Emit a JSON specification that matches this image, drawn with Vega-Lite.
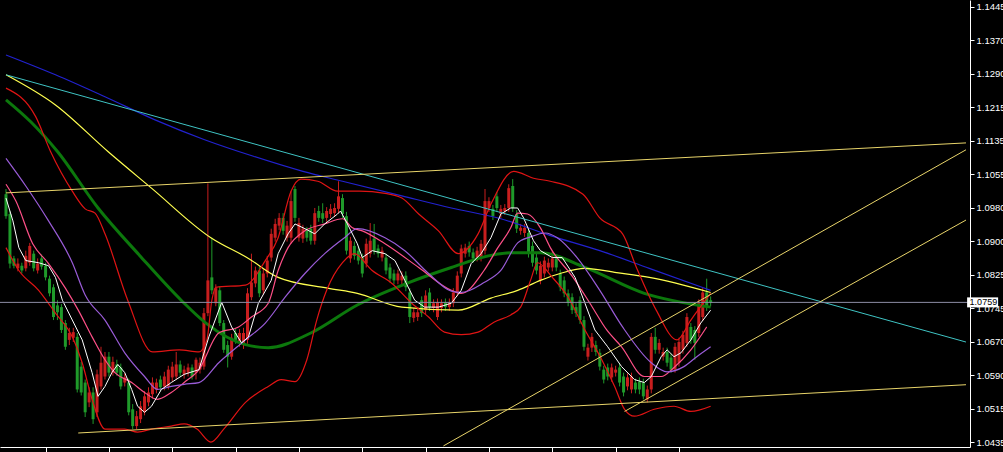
{
"$schema":"https://vega.github.io/schema/vega-lite/v6.json",
"width":970,"height":447,
"autosize":{"type":"none"},
"padding":{"left":0,"top":0,"right":33,"bottom":5},
"background":"#000000",
"config":{"view":{"stroke":null},"axis":{"grid":false,"labelOverlap":false,"labelSeparation":0,"labelBound":false,"labelFlush":false}},
"resolve":{"scale":{"color":"independent"}},
"datasets":{
"candles":[
{"k":0,"o":1.1010,"h":1.1022,"l":1.0953,"c":1.0959},
{"k":1,"o":1.0964,"h":1.0971,"l":1.0838,"c":1.0849},
{"k":2,"o":1.0861,"h":1.0867,"l":1.0838,"c":1.0844},
{"k":3,"o":1.0838,"h":1.0861,"l":1.0831,"c":1.0849},
{"k":4,"o":1.0844,"h":1.0851,"l":1.0826,"c":1.0833},
{"k":5,"o":1.0838,"h":1.0879,"l":1.0831,"c":1.0867},
{"k":6,"o":1.0851,"h":1.0897,"l":1.0844,"c":1.0890},
{"k":7,"o":1.0872,"h":1.0879,"l":1.0831,"c":1.0838},
{"k":8,"o":1.0833,"h":1.0861,"l":1.0826,"c":1.0849},
{"k":9,"o":1.0861,"h":1.0870,"l":1.0835,"c":1.0842},
{"k":10,"o":1.0844,"h":1.0851,"l":1.0810,"c":1.0817},
{"k":11,"o":1.0814,"h":1.0821,"l":1.0773,"c":1.0780},
{"k":12,"o":1.0794,"h":1.0801,"l":1.0718,"c":1.0725},
{"k":13,"o":1.0752,"h":1.0764,"l":1.0718,"c":1.0736},
{"k":14,"o":1.0748,"h":1.0755,"l":1.0688,"c":1.0695},
{"k":15,"o":1.0711,"h":1.0718,"l":1.0649,"c":1.0656},
{"k":16,"o":1.0672,"h":1.0700,"l":1.0660,"c":1.0688},
{"k":17,"o":1.0677,"h":1.0700,"l":1.0667,"c":1.0690},
{"k":18,"o":1.0679,"h":1.0688,"l":1.0550,"c":1.0557},
{"k":19,"o":1.0610,"h":1.0621,"l":1.0543,"c":1.0550},
{"k":20,"o":1.0573,"h":1.0580,"l":1.0493,"c":1.0504},
{"k":21,"o":1.0527,"h":1.0562,"l":1.0516,"c":1.0550},
{"k":22,"o":1.0550,"h":1.0562,"l":1.0477,"c":1.0488},
{"k":23,"o":1.0504,"h":1.0603,"l":1.0493,"c":1.0592},
{"k":24,"o":1.0564,"h":1.0656,"l":1.0557,"c":1.0619},
{"k":25,"o":1.0587,"h":1.0644,"l":1.0580,"c":1.0633},
{"k":26,"o":1.0633,"h":1.0644,"l":1.0587,"c":1.0596},
{"k":27,"o":1.0596,"h":1.0633,"l":1.0589,"c":1.0621},
{"k":28,"o":1.0615,"h":1.0626,"l":1.0589,"c":1.0596},
{"k":29,"o":1.0608,"h":1.0617,"l":1.0557,"c":1.0564},
{"k":30,"o":1.0573,"h":1.0594,"l":1.0564,"c":1.0585},
{"k":31,"o":1.0573,"h":1.0582,"l":1.0497,"c":1.0504},
{"k":32,"o":1.0511,"h":1.0523,"l":1.0465,"c":1.0472},
{"k":33,"o":1.0472,"h":1.0507,"l":1.0465,"c":1.0495},
{"k":34,"o":1.0488,"h":1.0530,"l":1.0479,"c":1.0518},
{"k":35,"o":1.0504,"h":1.0553,"l":1.0497,"c":1.0541},
{"k":36,"o":1.0527,"h":1.0562,"l":1.0518,"c":1.0550},
{"k":37,"o":1.0546,"h":1.0585,"l":1.0536,"c":1.0573},
{"k":38,"o":1.0557,"h":1.0582,"l":1.0548,"c":1.0573},
{"k":39,"o":1.0580,"h":1.0589,"l":1.0553,"c":1.0562},
{"k":40,"o":1.0564,"h":1.0598,"l":1.0555,"c":1.0587},
{"k":41,"o":1.0564,"h":1.0612,"l":1.0557,"c":1.0603},
{"k":42,"o":1.0585,"h":1.0621,"l":1.0575,"c":1.0610},
{"k":43,"o":1.0587,"h":1.0644,"l":1.0580,"c":1.0615},
{"k":44,"o":1.0615,"h":1.0624,"l":1.0587,"c":1.0596},
{"k":45,"o":1.0592,"h":1.0612,"l":1.0582,"c":1.0603},
{"k":46,"o":1.0596,"h":1.0617,"l":1.0587,"c":1.0608},
{"k":47,"o":1.0608,"h":1.0615,"l":1.0580,"c":1.0587},
{"k":48,"o":1.0596,"h":1.0631,"l":1.0580,"c":1.0626},
{"k":49,"o":1.0603,"h":1.0631,"l":1.0594,"c":1.0619},
{"k":50,"o":1.0610,"h":1.0746,"l":1.0603,"c":1.0734},
{"k":51,"o":1.0734,"h":1.1035,"l":1.0727,"c":1.0810},
{"k":52,"o":1.0817,"h":1.0909,"l":1.0778,"c":1.0787},
{"k":53,"o":1.0757,"h":1.0801,"l":1.0750,"c":1.0792},
{"k":54,"o":1.0787,"h":1.0796,"l":1.0704,"c":1.0711},
{"k":55,"o":1.0711,"h":1.0718,"l":1.0642,"c":1.0649},
{"k":56,"o":1.0660,"h":1.0670,"l":1.0608,"c":1.0633},
{"k":57,"o":1.0633,"h":1.0686,"l":1.0626,"c":1.0677},
{"k":58,"o":1.0688,"h":1.0697,"l":1.0663,"c":1.0672},
{"k":59,"o":1.0665,"h":1.0697,"l":1.0656,"c":1.0688},
{"k":60,"o":1.0660,"h":1.0700,"l":1.0651,"c":1.0688},
{"k":61,"o":1.0672,"h":1.0792,"l":1.0663,"c":1.0780},
{"k":62,"o":1.0771,"h":1.0872,"l":1.0764,"c":1.0805},
{"k":63,"o":1.0803,"h":1.0842,"l":1.0794,"c":1.0833},
{"k":64,"o":1.0833,"h":1.0842,"l":1.0771,"c":1.0780},
{"k":65,"o":1.0787,"h":1.0838,"l":1.0778,"c":1.0826},
{"k":66,"o":1.0826,"h":1.0867,"l":1.0817,"c":1.0856},
{"k":67,"o":1.0863,"h":1.0930,"l":1.0854,"c":1.0918},
{"k":68,"o":1.0909,"h":1.0953,"l":1.0900,"c":1.0941},
{"k":69,"o":1.0937,"h":1.0966,"l":1.0927,"c":1.0955},
{"k":70,"o":1.0955,"h":1.0966,"l":1.0916,"c":1.0925},
{"k":71,"o":1.0909,"h":1.0948,"l":1.0900,"c":1.0937},
{"k":72,"o":1.0909,"h":1.1017,"l":1.0895,"c":1.0994},
{"k":73,"o":1.1022,"h":1.1029,"l":1.0946,"c":1.0955},
{"k":74,"o":1.0909,"h":1.0955,"l":1.0900,"c":1.0943},
{"k":75,"o":1.0907,"h":1.0939,"l":1.0897,"c":1.0930},
{"k":76,"o":1.0925,"h":1.0934,"l":1.0900,"c":1.0909},
{"k":77,"o":1.0930,"h":1.0939,"l":1.0893,"c":1.0902},
{"k":78,"o":1.0902,"h":1.0978,"l":1.0893,"c":1.0966},
{"k":79,"o":1.0971,"h":1.0983,"l":1.0946,"c":1.0955},
{"k":80,"o":1.0966,"h":1.0989,"l":1.0943,"c":1.0953},
{"k":81,"o":1.0955,"h":1.0980,"l":1.0946,"c":1.0971},
{"k":82,"o":1.0964,"h":1.0987,"l":1.0955,"c":1.0976},
{"k":83,"o":1.0966,"h":1.0989,"l":1.0957,"c":1.0978},
{"k":84,"o":1.0976,"h":1.1040,"l":1.0966,"c":1.1005},
{"k":85,"o":1.1001,"h":1.1010,"l":1.0955,"c":1.0964},
{"k":86,"o":1.0959,"h":1.0969,"l":1.0870,"c":1.0879},
{"k":87,"o":1.0861,"h":1.0911,"l":1.0851,"c":1.0902},
{"k":88,"o":1.0890,"h":1.0900,"l":1.0858,"c":1.0867},
{"k":89,"o":1.0879,"h":1.0888,"l":1.0847,"c":1.0856},
{"k":90,"o":1.0863,"h":1.0872,"l":1.0817,"c":1.0826},
{"k":91,"o":1.0849,"h":1.0907,"l":1.0840,"c":1.0895},
{"k":92,"o":1.0872,"h":1.0943,"l":1.0863,"c":1.0902},
{"k":93,"o":1.0907,"h":1.0941,"l":1.0870,"c":1.0879},
{"k":94,"o":1.0884,"h":1.0893,"l":1.0863,"c":1.0872},
{"k":95,"o":1.0863,"h":1.0888,"l":1.0854,"c":1.0879},
{"k":96,"o":1.0863,"h":1.0872,"l":1.0824,"c":1.0833},
{"k":97,"o":1.0840,"h":1.0849,"l":1.0805,"c":1.0814},
{"k":98,"o":1.0826,"h":1.0835,"l":1.0801,"c":1.0810},
{"k":99,"o":1.0810,"h":1.0835,"l":1.0801,"c":1.0826},
{"k":100,"o":1.0810,"h":1.0831,"l":1.0801,"c":1.0821},
{"k":101,"o":1.0821,"h":1.0831,"l":1.0785,"c":1.0794},
{"k":102,"o":1.0782,"h":1.0792,"l":1.0711,"c":1.0725},
{"k":103,"o":1.0723,"h":1.0746,"l":1.0713,"c":1.0736},
{"k":104,"o":1.0725,"h":1.0748,"l":1.0716,"c":1.0736},
{"k":105,"o":1.0764,"h":1.0773,"l":1.0725,"c":1.0734},
{"k":106,"o":1.0741,"h":1.0787,"l":1.0732,"c":1.0775},
{"k":107,"o":1.0782,"h":1.0792,"l":1.0739,"c":1.0748},
{"k":108,"o":1.0746,"h":1.0766,"l":1.0736,"c":1.0757},
{"k":109,"o":1.0725,"h":1.0768,"l":1.0718,"c":1.0759},
{"k":110,"o":1.0746,"h":1.0766,"l":1.0736,"c":1.0757},
{"k":111,"o":1.0759,"h":1.0768,"l":1.0739,"c":1.0748},
{"k":112,"o":1.0748,"h":1.0768,"l":1.0739,"c":1.0759},
{"k":113,"o":1.0757,"h":1.0792,"l":1.0748,"c":1.0782},
{"k":114,"o":1.0782,"h":1.0831,"l":1.0773,"c":1.0821},
{"k":115,"o":1.0826,"h":1.0893,"l":1.0817,"c":1.0884},
{"k":116,"o":1.0872,"h":1.0895,"l":1.0863,"c":1.0886},
{"k":117,"o":1.0890,"h":1.0900,"l":1.0865,"c":1.0875},
{"k":118,"o":1.0875,"h":1.0884,"l":1.0851,"c":1.0861},
{"k":119,"o":1.0863,"h":1.0888,"l":1.0854,"c":1.0879},
{"k":120,"o":1.0863,"h":1.0904,"l":1.0854,"c":1.0895},
{"k":121,"o":1.0879,"h":1.1022,"l":1.0870,"c":1.0994},
{"k":122,"o":1.0978,"h":1.1003,"l":1.0969,"c":1.0994},
{"k":123,"o":1.0976,"h":1.0985,"l":1.0950,"c":1.0959},
{"k":124,"o":1.1005,"h":1.1015,"l":1.0969,"c":1.0978},
{"k":125,"o":1.0964,"h":1.0985,"l":1.0955,"c":1.0976},
{"k":126,"o":1.0971,"h":1.0987,"l":1.0962,"c":1.0978},
{"k":127,"o":1.0978,"h":1.1033,"l":1.0969,"c":1.1024},
{"k":128,"o":1.1029,"h":1.1045,"l":1.0969,"c":1.0978},
{"k":129,"o":1.0964,"h":1.0973,"l":1.0920,"c":1.0930},
{"k":130,"o":1.0925,"h":1.0941,"l":1.0916,"c":1.0932},
{"k":131,"o":1.0920,"h":1.0941,"l":1.0911,"c":1.0932},
{"k":132,"o":1.0920,"h":1.0930,"l":1.0863,"c":1.0872},
{"k":133,"o":1.0890,"h":1.0900,"l":1.0842,"c":1.0851},
{"k":134,"o":1.0863,"h":1.0872,"l":1.0824,"c":1.0833},
{"k":135,"o":1.0810,"h":1.0854,"l":1.0801,"c":1.0844},
{"k":136,"o":1.0826,"h":1.0865,"l":1.0817,"c":1.0856},
{"k":137,"o":1.0840,"h":1.0861,"l":1.0831,"c":1.0851},
{"k":138,"o":1.0840,"h":1.0879,"l":1.0831,"c":1.0861},
{"k":139,"o":1.0861,"h":1.0870,"l":1.0831,"c":1.0840},
{"k":140,"o":1.0826,"h":1.0835,"l":1.0785,"c":1.0794},
{"k":141,"o":1.0810,"h":1.0819,"l":1.0771,"c":1.0780},
{"k":142,"o":1.0780,"h":1.0789,"l":1.0750,"c":1.0759},
{"k":143,"o":1.0771,"h":1.0780,"l":1.0732,"c":1.0741},
{"k":144,"o":1.0748,"h":1.0757,"l":1.0725,"c":1.0734},
{"k":145,"o":1.0764,"h":1.0773,"l":1.0709,"c":1.0718},
{"k":146,"o":1.0718,"h":1.0727,"l":1.0647,"c":1.0656},
{"k":147,"o":1.0633,"h":1.0663,"l":1.0624,"c":1.0654},
{"k":148,"o":1.0654,"h":1.0688,"l":1.0644,"c":1.0679},
{"k":149,"o":1.0660,"h":1.0670,"l":1.0635,"c":1.0644},
{"k":150,"o":1.0642,"h":1.0651,"l":1.0601,"c":1.0610},
{"k":151,"o":1.0603,"h":1.0612,"l":1.0571,"c":1.0580},
{"k":152,"o":1.0608,"h":1.0617,"l":1.0578,"c":1.0587},
{"k":153,"o":1.0585,"h":1.0617,"l":1.0575,"c":1.0608},
{"k":154,"o":1.0596,"h":1.0612,"l":1.0587,"c":1.0603},
{"k":155,"o":1.0608,"h":1.0617,"l":1.0564,"c":1.0573},
{"k":156,"o":1.0587,"h":1.0596,"l":1.0541,"c":1.0550},
{"k":157,"o":1.0564,"h":1.0594,"l":1.0555,"c":1.0585},
{"k":158,"o":1.0557,"h":1.0596,"l":1.0548,"c":1.0587},
{"k":159,"o":1.0573,"h":1.0582,"l":1.0548,"c":1.0557},
{"k":160,"o":1.0575,"h":1.0585,"l":1.0546,"c":1.0557},
{"k":161,"o":1.0573,"h":1.0582,"l":1.0534,"c":1.0541},
{"k":162,"o":1.0534,"h":1.0566,"l":1.0527,"c":1.0557},
{"k":163,"o":1.0557,"h":1.0688,"l":1.0548,"c":1.0679},
{"k":164,"o":1.0679,"h":1.0700,"l":1.0640,"c":1.0649},
{"k":165,"o":1.0649,"h":1.0674,"l":1.0640,"c":1.0665},
{"k":166,"o":1.0633,"h":1.0654,"l":1.0624,"c":1.0644},
{"k":167,"o":1.0644,"h":1.0654,"l":1.0610,"c":1.0619},
{"k":168,"o":1.0631,"h":1.0640,"l":1.0596,"c":1.0603},
{"k":169,"o":1.0603,"h":1.0665,"l":1.0596,"c":1.0656},
{"k":170,"o":1.0619,"h":1.0677,"l":1.0610,"c":1.0667},
{"k":171,"o":1.0649,"h":1.0693,"l":1.0640,"c":1.0684},
{"k":172,"o":1.0665,"h":1.0734,"l":1.0656,"c":1.0725},
{"k":173,"o":1.0702,"h":1.0711,"l":1.0663,"c":1.0672},
{"k":174,"o":1.0695,"h":1.0704,"l":1.0626,"c":1.0665},
{"k":175,"o":1.0688,"h":1.0766,"l":1.0679,"c":1.0757},
{"k":176,"o":1.0725,"h":1.0792,"l":1.0716,"c":1.0782},
{"k":177,"o":1.0782,"h":1.0814,"l":1.0739,"c":1.0748},
{"k":178,"o":1.0764,"h":1.0773,"l":1.0750,"c":1.0759}
],
"ind":[
{"s":"blue","k":0,"p":1.1333},{"s":"blue","k":12.5,"p":1.1287},{"s":"blue","k":25,"p":1.1236},{"s":"blue","k":37.5,"p":1.1183},{"s":"blue","k":50,"p":1.1137},{"s":"blue","k":62.5,"p":1.1098},{"s":"blue","k":75,"p":1.1063},{"s":"blue","k":85,"p":1.1040},{"s":"blue","k":100,"p":1.1006},{"s":"blue","k":112.5,"p":1.0978},{"s":"blue","k":125,"p":1.0953},{"s":"blue","k":137.5,"p":1.0914},{"s":"blue","k":150,"p":1.0879},{"s":"blue","k":162.5,"p":1.0838},{"s":"blue","k":178,"p":1.0787},
{"s":"yellow","k":0,"p":1.1287},{"s":"yellow","k":12.5,"p":1.1217},{"s":"yellow","k":25.75,"p":1.1109},{"s":"yellow","k":36.75,"p":1.1024},{"s":"yellow","k":51.75,"p":1.0909},{"s":"yellow","k":61.25,"p":1.0861},{"s":"yellow","k":68.75,"p":1.0817},{"s":"yellow","k":81.25,"p":1.0792},{"s":"yellow","k":88.75,"p":1.0780},{"s":"yellow","k":100,"p":1.0748},{"s":"yellow","k":114.25,"p":1.0741},{"s":"yellow","k":122.5,"p":1.0769},{"s":"yellow","k":129.25,"p":1.0787},{"s":"yellow","k":135,"p":1.0810},{"s":"yellow","k":140,"p":1.0826},{"s":"yellow","k":146.25,"p":1.0838},{"s":"yellow","k":154.25,"p":1.0828},{"s":"yellow","k":162.5,"p":1.0817},{"s":"yellow","k":178,"p":1.0782},
{"s":"bbu","k":0,"p":1.1256},{"s":"bbu","k":7.5,"p":1.1190},{"s":"bbu","k":11.25,"p":1.1109},{"s":"bbu","k":16.75,"p":1.1017},{"s":"bbu","k":20,"p":1.0976},{"s":"bbu","k":22.5,"p":1.0966},{"s":"bbu","k":25,"p":1.0918},{"s":"bbu","k":30.75,"p":1.0764},{"s":"bbu","k":37,"p":1.0644},{"s":"bbu","k":43.75,"p":1.0649},{"s":"bbu","k":48.75,"p":1.0644},{"s":"bbu","k":50.75,"p":1.0672},{"s":"bbu","k":52,"p":1.0764},{"s":"bbu","k":53,"p":1.0794},{"s":"bbu","k":60.5,"p":1.0799},{"s":"bbu","k":65.5,"p":1.0856},{"s":"bbu","k":68.75,"p":1.0909},{"s":"bbu","k":72,"p":1.1017},{"s":"bbu","k":74.5,"p":1.1045},{"s":"bbu","k":78.75,"p":1.1040},{"s":"bbu","k":83.75,"p":1.1017},{"s":"bbu","k":89.25,"p":1.1017},{"s":"bbu","k":95.75,"p":1.1012},{"s":"bbu","k":100,"p":1.1001},{"s":"bbu","k":104.25,"p":1.0964},{"s":"bbu","k":109.25,"p":1.0925},{"s":"bbu","k":114.25,"p":1.0872},{"s":"bbu","k":119.25,"p":1.0918},{"s":"bbu","k":122.5,"p":1.0987},{"s":"bbu","k":128.25,"p":1.1063},{"s":"bbu","k":133.25,"p":1.1047},{"s":"bbu","k":137.5,"p":1.1040},{"s":"bbu","k":145.75,"p":1.1010},{"s":"bbu","k":150,"p":1.0955},{"s":"bbu","k":155.75,"p":1.0918},{"s":"bbu","k":159.25,"p":1.0840},{"s":"bbu","k":164.25,"p":1.0741},{"s":"bbu","k":169.5,"p":1.0672},{"s":"bbu","k":173,"p":1.0718},{"s":"bbu","k":178,"p":1.0780},
{"s":"bbl","k":0,"p":1.0886},{"s":"bbl","k":3.25,"p":1.0833},{"s":"bbl","k":8.25,"p":1.0787},{"s":"bbl","k":12.5,"p":1.0734},{"s":"bbl","k":16.75,"p":1.0679},{"s":"bbl","k":19.25,"p":1.0619},{"s":"bbl","k":21.75,"p":1.0534},{"s":"bbl","k":25,"p":1.0465},{"s":"bbl","k":30,"p":1.0465},{"s":"bbl","k":33.25,"p":1.0458},{"s":"bbl","k":36.75,"p":1.0465},{"s":"bbl","k":41.75,"p":1.0472},{"s":"bbl","k":45,"p":1.0477},{"s":"bbl","k":48.25,"p":1.0465},{"s":"bbl","k":51.75,"p":1.0435},{"s":"bbl","k":55,"p":1.0465},{"s":"bbl","k":60.5,"p":1.0527},{"s":"bbl","k":66.25,"p":1.0564},{"s":"bbl","k":69.5,"p":1.0580},{"s":"bbl","k":73,"p":1.0575},{"s":"bbl","k":76,"p":1.0626},{"s":"bbl","k":78.5,"p":1.0718},{"s":"bbl","k":81,"p":1.0787},{"s":"bbl","k":85,"p":1.0851},{"s":"bbl","k":88,"p":1.0872},{"s":"bbl","k":92.5,"p":1.0833},{"s":"bbl","k":97.5,"p":1.0803},{"s":"bbl","k":102.5,"p":1.0757},{"s":"bbl","k":106.75,"p":1.0725},{"s":"bbl","k":110.75,"p":1.0690},{"s":"bbl","k":115,"p":1.0684},{"s":"bbl","k":119.25,"p":1.0690},{"s":"bbl","k":123.25,"p":1.0713},{"s":"bbl","k":127.5,"p":1.0730},{"s":"bbl","k":130,"p":1.0748},{"s":"bbl","k":132.5,"p":1.0810},{"s":"bbl","k":134.25,"p":1.0851},{"s":"bbl","k":138,"p":1.0817},{"s":"bbl","k":142,"p":1.0771},{"s":"bbl","k":146.25,"p":1.0695},{"s":"bbl","k":150.5,"p":1.0626},{"s":"bbl","k":153.75,"p":1.0564},{"s":"bbl","k":156.25,"p":1.0511},{"s":"bbl","k":158.75,"p":1.0495},{"s":"bbl","k":163.75,"p":1.0511},{"s":"bbl","k":168.75,"p":1.0518},{"s":"bbl","k":173,"p":1.0506},{"s":"bbl","k":178,"p":1.0518},
{"s":"pink","k":0,"p":1.1033},{"s":"pink","k":2.5,"p":1.0994},{"s":"pink","k":6.75,"p":1.0895},{"s":"pink","k":10.75,"p":1.0849},{"s":"pink","k":15,"p":1.0792},{"s":"pink","k":18.25,"p":1.0741},{"s":"pink","k":21.75,"p":1.0679},{"s":"pink","k":25,"p":1.0626},{"s":"pink","k":27.5,"p":1.0596},{"s":"pink","k":31.75,"p":1.0573},{"s":"pink","k":35,"p":1.0550},{"s":"pink","k":38.25,"p":1.0534},{"s":"pink","k":41.75,"p":1.0550},{"s":"pink","k":45,"p":1.0573},{"s":"pink","k":48.75,"p":1.0603},{"s":"pink","k":53.75,"p":1.0688},{"s":"pink","k":58.75,"p":1.0702},{"s":"pink","k":62,"p":1.0725},{"s":"pink","k":66.25,"p":1.0757},{"s":"pink","k":68.75,"p":1.0833},{"s":"pink","k":71.25,"p":1.0886},{"s":"pink","k":75.5,"p":1.0925},{"s":"pink","k":80.5,"p":1.0941},{"s":"pink","k":85,"p":1.0953},{"s":"pink","k":87.5,"p":1.0932},{"s":"pink","k":90,"p":1.0925},{"s":"pink","k":95.75,"p":1.0895},{"s":"pink","k":104.25,"p":1.0840},{"s":"pink","k":112.5,"p":1.0787},{"s":"pink","k":115,"p":1.0780},{"s":"pink","k":120.75,"p":1.0833},{"s":"pink","k":124.25,"p":1.0886},{"s":"pink","k":127.5,"p":1.0932},{"s":"pink","k":129.25,"p":1.0966},{"s":"pink","k":131.75,"p":1.0964},{"s":"pink","k":135,"p":1.0932},{"s":"pink","k":137.5,"p":1.0886},{"s":"pink","k":143.25,"p":1.0817},{"s":"pink","k":147.5,"p":1.0757},{"s":"pink","k":151.75,"p":1.0695},{"s":"pink","k":155.5,"p":1.0656},{"s":"pink","k":161.25,"p":1.0587},{"s":"pink","k":165.5,"p":1.0587},{"s":"pink","k":168.75,"p":1.0608},{"s":"pink","k":173,"p":1.0649},{"s":"pink","k":177,"p":1.0702},
{"s":"purple","k":0,"p":1.1093},{"s":"purple","k":5,"p":1.1029},{"s":"purple","k":10.75,"p":1.0948},{"s":"purple","k":16.75,"p":1.0851},{"s":"purple","k":20,"p":1.0776},{"s":"purple","k":25,"p":1.0718},{"s":"purple","k":30,"p":1.0642},{"s":"purple","k":35,"p":1.0587},{"s":"purple","k":38.25,"p":1.0557},{"s":"purple","k":41.75,"p":1.0564},{"s":"purple","k":45,"p":1.0569},{"s":"purple","k":48.75,"p":1.0573},{"s":"purple","k":53.75,"p":1.0619},{"s":"purple","k":60.5,"p":1.0672},{"s":"purple","k":65.5,"p":1.0711},{"s":"purple","k":70.5,"p":1.0771},{"s":"purple","k":75.5,"p":1.0826},{"s":"purple","k":80.5,"p":1.0872},{"s":"purple","k":85.5,"p":1.0909},{"s":"purple","k":88.75,"p":1.0930},{"s":"purple","k":95.75,"p":1.0909},{"s":"purple","k":100.75,"p":1.0879},{"s":"purple","k":106.75,"p":1.0826},{"s":"purple","k":112.5,"p":1.0785},{"s":"purple","k":115,"p":1.0782},{"s":"purple","k":120.75,"p":1.0805},{"s":"purple","k":125,"p":1.0833},{"s":"purple","k":129.25,"p":1.0897},{"s":"purple","k":132.5,"p":1.0911},{"s":"purple","k":136.25,"p":1.0920},{"s":"purple","k":139.25,"p":1.0909},{"s":"purple","k":144.25,"p":1.0863},{"s":"purple","k":150,"p":1.0787},{"s":"purple","k":155.75,"p":1.0702},{"s":"purple","k":163,"p":1.0619},{"s":"purple","k":167,"p":1.0598},{"s":"purple","k":171.25,"p":1.0610},{"s":"purple","k":174.5,"p":1.0633},{"s":"purple","k":178,"p":1.0656}
],
"green":[
{"k":0,"p":1.1229},{"k":6.25,"p":1.1178},{"k":13,"p":1.1109},{"k":23.25,"p":1.0978},{"k":33.75,"p":1.0868},{"k":44.25,"p":1.0764},{"k":50.5,"p":1.0711},{"k":60.5,"p":1.0661},{"k":66.25,"p":1.0654},{"k":77,"p":1.0688},{"k":88.75,"p":1.0753},{"k":101.75,"p":1.0805},{"k":112.5,"p":1.0840},{"k":122.5,"p":1.0868},{"k":127.5,"p":1.0874},{"k":135,"p":1.0874},{"k":146.25,"p":1.0840},{"k":161.25,"p":1.0780},{"k":178,"p":1.0748}
],
"white":[
{"k":0,"p":1.1001},{"k":1.75,"p":1.0948},{"k":3.25,"p":1.0886},{"k":5,"p":1.0856},{"k":8.25,"p":1.0851},{"k":10.75,"p":1.0844},{"k":12.5,"p":1.0817},{"k":14.25,"p":1.0764},{"k":16.75,"p":1.0718},{"k":19.25,"p":1.0672},{"k":21.75,"p":1.0596},{"k":23.25,"p":1.0541},{"k":25,"p":1.0564},{"k":26.75,"p":1.0596},{"k":28.25,"p":1.0615},{"k":30,"p":1.0596},{"k":31.75,"p":1.0557},{"k":33.25,"p":1.0518},{"k":35,"p":1.0504},{"k":36.75,"p":1.0518},{"k":39.25,"p":1.0557},{"k":41.75,"p":1.0573},{"k":45,"p":1.0592},{"k":48.75,"p":1.0603},{"k":51.25,"p":1.0679},{"k":54.5,"p":1.0759},{"k":57,"p":1.0702},{"k":59.5,"p":1.0665},{"k":61.25,"p":1.0679},{"k":63.75,"p":1.0757},{"k":67,"p":1.0810},{"k":68.75,"p":1.0872},{"k":71.25,"p":1.0918},{"k":73,"p":1.0941},{"k":75.5,"p":1.0930},{"k":78,"p":1.0918},{"k":80.5,"p":1.0941},{"k":83.75,"p":1.0964},{"k":84.5,"p":1.0971},{"k":86.25,"p":1.0941},{"k":88.75,"p":1.0895},{"k":90,"p":1.0863},{"k":92.5,"p":1.0879},{"k":95.75,"p":1.0872},{"k":98.25,"p":1.0856},{"k":100.75,"p":1.0810},{"k":103.25,"p":1.0764},{"k":105.75,"p":1.0748},{"k":109.25,"p":1.0748},{"k":112.5,"p":1.0757},{"k":115,"p":1.0787},{"k":117.5,"p":1.0849},{"k":120,"p":1.0872},{"k":122.5,"p":1.0909},{"k":125,"p":1.0964},{"k":127.5,"p":1.0978},{"k":129.25,"p":1.0978},{"k":130.75,"p":1.0955},{"k":133.25,"p":1.0902},{"k":135,"p":1.0879},{"k":138,"p":1.0863},{"k":140.5,"p":1.0863},{"k":143.75,"p":1.0817},{"k":146.25,"p":1.0757},{"k":148.75,"p":1.0695},{"k":152,"p":1.0656},{"k":155.5,"p":1.0610},{"k":158.75,"p":1.0580},{"k":161.25,"p":1.0573},{"k":163,"p":1.0587},{"k":165.5,"p":1.0633},{"k":167,"p":1.0649},{"k":168.75,"p":1.0633},{"k":170.5,"p":1.0642},{"k":173,"p":1.0672},{"k":175.5,"p":1.0711},{"k":178,"p":1.0741}
],
"trend":[
{"t":"cyan","k1":0,"p1":1.1287,"k2":242.5,"p2":1.0667},
{"t":"upper","k1":0,"p1":1.1013,"k2":242.5,"p2":1.1129},
{"t":"lower","k1":18.25,"p1":1.0456,"k2":242.5,"p2":1.0568},
{"t":"chan1","k1":110.5,"p1":1.0426,"k2":242.5,"p2":1.1113},
{"t":"chan2","k1":156.25,"p1":1.0506,"k2":242.5,"p2":1.0950}
],
"bid":[{"p":1.0759}]
},
"layer":[
{"data":{"name":"candles"},
 "mark":{"type":"rule","strokeWidth":1},
 "encoding":{
  "x":{"field":"k","type":"quantitative","scale":{"domain":[-0.25,242.25],"nice":false,"zero":false},
       "axis":{"orient":"bottom","values":[10,26,42,58,74,90,106,122,138,154,170],"tickCount":30,"labels":false,"title":null,"domainColor":"#ffffff","tickColor":"#ffffff","tickSize":5,"domainWidth":1,"tickWidth":1}},
  "y":{"field":"l","type":"quantitative","scale":{"domain":[1.04235,1.14605],"nice":false,"zero":false},
       "axis":{"orient":"right","title":null,"tickCount":30,"values":[1.1445,1.13673,1.12896,1.12118,1.11341,1.10564,1.09787,1.0901,1.08232,1.07455,1.06678,1.05901,1.05124,1.04346],
        "labelExpr":"['1.1445','1.1370','1.1290','1.1215','1.1135','1.1055','1.0980','1.0900','1.0825','1.0745','1.0670','1.0590','1.0515','1.0435'][round((1.1445-datum.value)/0.007772)]",
        "domainColor":"#ffffff","tickColor":"#ffffff","labelColor":"#ffffff","tickSize":4,"labelPadding":2,"labelFont":"Liberation Sans","labelFontSize":9.5,"labelOverlap":false,"labelSeparation":0,"labelBound":false,"labelFlush":false,"domainWidth":1}},
  "y2":{"field":"h"},
  "color":{"condition":{"test":"datum.c >= datum.o","value":"#c81e1e"},"value":"#1f9a2a"}
 }},
{"data":{"name":"candles"},
 "mark":{"type":"bar","size":3},
 "encoding":{
  "x":{"field":"k","type":"quantitative"},
  "y":{"field":"o","type":"quantitative"},
  "y2":{"field":"c"},
  "color":{"condition":{"test":"datum.c >= datum.o","value":"#c81e1e"},"value":"#1f9a2a"}
 }},
{"data":{"name":"green"},
 "mark":{"type":"line","strokeWidth":3,"color":"#0c780c","interpolate":"monotone","clip":true},
 "encoding":{
  "x":{"field":"k","type":"quantitative"},
  "y":{"field":"p","type":"quantitative"}
 }},
{"data":{"name":"ind"},
 "mark":{"type":"line","strokeWidth":1.2,"interpolate":"monotone","clip":true},
 "encoding":{
  "x":{"field":"k","type":"quantitative"},
  "y":{"field":"p","type":"quantitative"},
  "detail":{"field":"s","type":"nominal"},
  "color":{"field":"s","type":"nominal","legend":null,"scale":{"domain":["blue","yellow","bbu","bbl","pink","purple"],"range":["#2222d0","#ffff50","#e01414","#e01414","#ff5088","#9a5cd8"]}}
 }},
{"data":{"name":"white"},
 "mark":{"type":"line","strokeWidth":1,"color":"#ffffff","clip":true},
 "encoding":{
  "x":{"field":"k","type":"quantitative"},
  "y":{"field":"p","type":"quantitative"}
 }},
{"data":{"name":"trend"},
 "mark":{"type":"rule","strokeWidth":1,"clip":true},
 "encoding":{
  "x":{"field":"k1","type":"quantitative"},
  "y":{"field":"p1","type":"quantitative"},
  "x2":{"field":"k2"},
  "y2":{"field":"p2"},
  "color":{"field":"t","type":"nominal","legend":null,"scale":{"domain":["cyan","upper","lower","chan1","chan2"],"range":["#3fc4c4","#e8d46a","#e8d46a","#e8d46a","#e8d46a"]}}
 }},
{"data":{"name":"bid"},
 "mark":{"type":"rule","strokeWidth":1,"color":"#8e8ea6"},
 "encoding":{
  "y":{"field":"p","type":"quantitative"}
 }},
{"data":{"name":"bid"},
 "mark":{"type":"tick","orient":"horizontal","size":31,"thickness":10,"color":"#ffffff","opacity":1,"clip":false},
 "encoding":{
  "x":{"datum":246.7,"type":"quantitative"},
  "y":{"field":"p","type":"quantitative"}
 }},
{"data":{"name":"bid"},
 "mark":{"type":"text","color":"#000000","font":"Liberation Sans","fontSize":9,"align":"left","baseline":"middle","dx":-13,"clip":false},
 "encoding":{
  "x":{"datum":246.7,"type":"quantitative"},
  "y":{"field":"p","type":"quantitative"},
  "text":{"field":"p","format":".4f"}
 }}
]
}
